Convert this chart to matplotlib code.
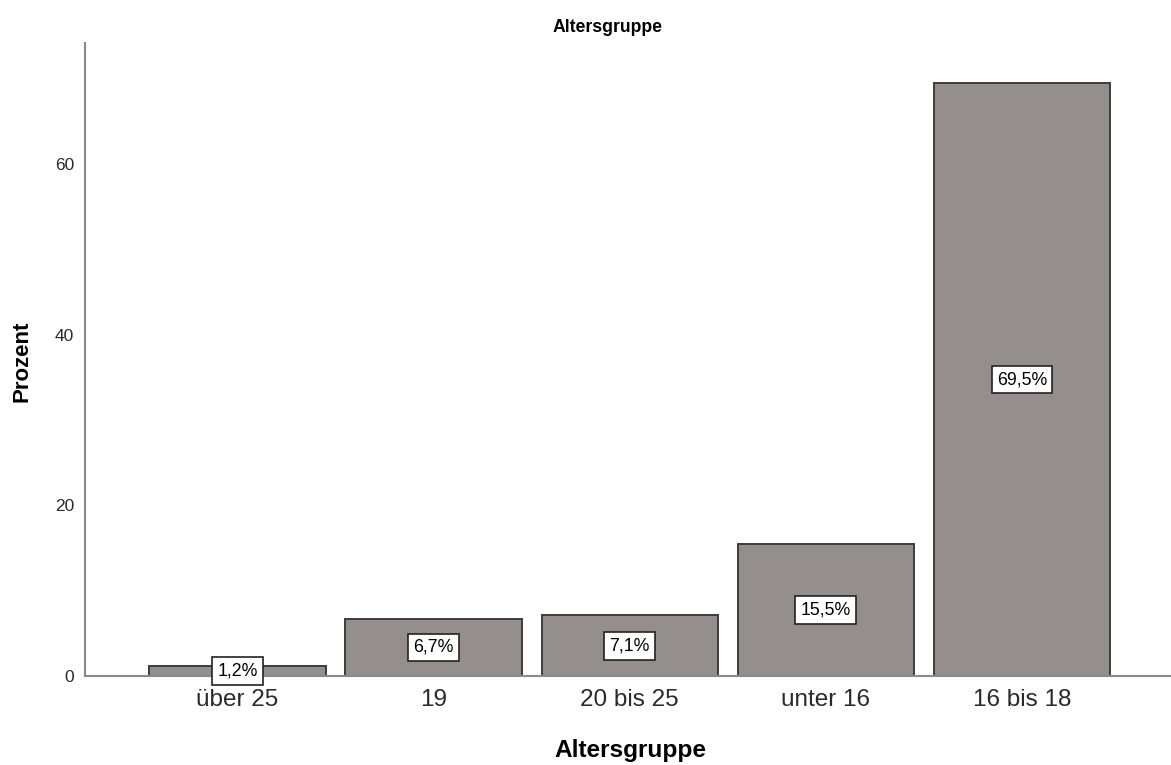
import matplotlib.pyplot as plt

# Daten (Prozentwerte je Altersgruppe)
categories = ["über 25", "19", "20 bis 25", "unter 16", "16 bis 18"]
percent = [1.2, 6.7, 7.1, 15.5, 69.5]
bar_labels = ["1,2%", "6,7%", "7,1%", "15,5%", "69,5%"]

plt.rcParams["font.family"] = ["Liberation Sans", "DejaVu Sans"]

fig = plt.figure(figsize=(11.71, 7.65), dpi=100)
ax = fig.add_axes([85 / 1171, 89 / 765, 1 - 85 / 1171, 633 / 765])

x = list(range(len(categories)))
ax.bar(x, percent, width=0.9, color="#948f8d", edgecolor="#3c3c3c", linewidth=1.4, zorder=2)

for xi, val, lab in zip(x, percent, bar_labels):
    ax.text(xi, val / 2, lab, ha="center", va="center", fontsize=12.8, color="black", zorder=3,
            bbox=dict(boxstyle="square,pad=0.3", facecolor="white", edgecolor="#222222", linewidth=1.2))

ax.set_xlim(-0.778, 4.76)
ax.set_ylim(0, 74.2)
ax.set_yticks([0, 20, 40, 60])
ax.set_xticks(x)
ax.set_xticklabels(categories)

ax.tick_params(axis="x", length=0, pad=9, labelsize=17.5, labelcolor="#2a2a2a")
ax.tick_params(axis="y", length=0, pad=8, labelsize=12.5, labelcolor="#2a2a2a")

for side in ["top", "right"]:
    ax.spines[side].set_visible(False)
for side in ["left", "bottom"]:
    ax.spines[side].set_color("#8a8a8a")
    ax.spines[side].set_linewidth(1.5)

fig.text(608 / 1171, 1 - 28 / 765, "Altersgruppe", ha="center", va="center",
         fontsize=12.7, fontweight="bold")
fig.text(630 / 1171, 1 - 750 / 765, "Altersgruppe", ha="center", va="center",
         fontsize=17.6, fontweight="bold")
fig.text(22 / 1171, 1 - 361 / 765, "Prozent", ha="center", va="center", rotation=90,
         fontsize=16, fontweight="bold")

fig.savefig("out.png", dpi=100)
plt.close(fig)
